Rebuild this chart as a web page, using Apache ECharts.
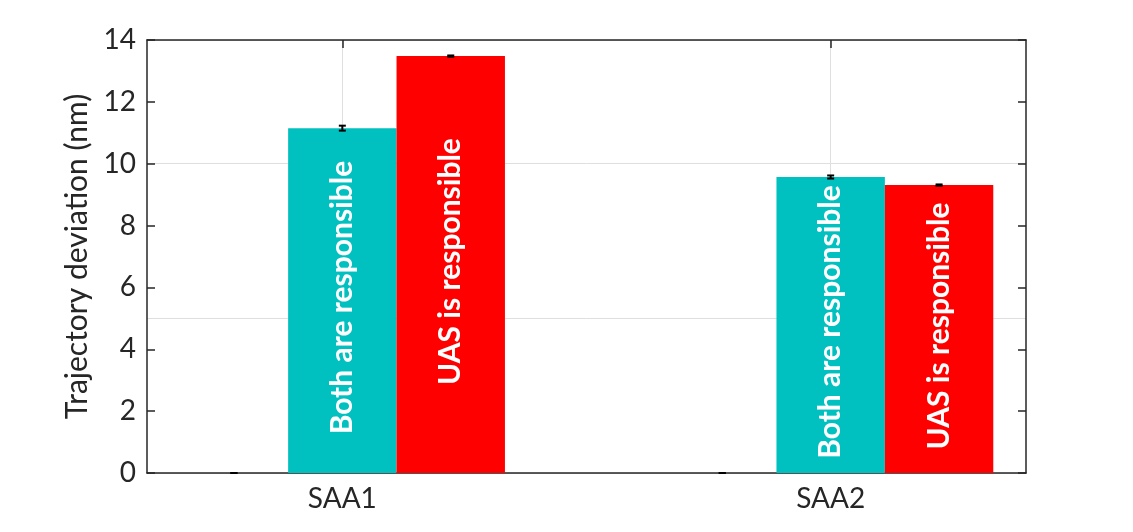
<!DOCTYPE html>
<html>
<head>
<meta charset="utf-8">
<script src="https://cdn.jsdelivr.net/npm/echarts@6/dist/echarts.min.js"></script>
<style>html,body{margin:0;padding:0;background:#fff}#c{width:1133px;height:532px}</style>
</head>
<body>
<div id="c"></div>
<script>
// ---- data ----
const categories = ['SAA1', 'SAA2'];
const seriesNames = ['(none)', 'Both are responsible', 'UAS is responsible'];
const noneValues = [0, 0];
const noneErrors = [0, 0];
const bothValues = [11.15, 9.57];
const bothErrors = [0.08, 0.05];
const uasValues = [13.48, 9.31];
const uasErrors = [0.02, 0.02];
const yTickValues = [0, 2, 4, 6, 8, 10, 12, 14];

const ink = '#262626';
const font = 'Lato, "Open Sans", sans-serif';
const barColors = ['#00C0C0', '#00C0C0', '#FF0000'];
const barOffsets = [-0.222, 0, 0.222];
const barW = 0.222;
const showLabel = [false, true, true];

function makeData(vals, errs) {
  return vals.map((v, i) => [i + 1, v, errs[i]]);
}
const allSeries = [
  makeData(noneValues, noneErrors),
  makeData(bothValues, bothErrors),
  makeData(uasValues, uasErrors)
];

function renderItem(params, api) {
  const si = params.seriesIndex;
  const x = api.value(0) + barOffsets[si];
  const v = api.value(1);
  const e = api.value(2);
  const tl = api.coord([x - barW / 2, v]);
  const br = api.coord([x + barW / 2, 0]);
  const children = [];
  if (v > 0) {
    children.push({
      type: 'rect',
      shape: { x: tl[0], y: tl[1], width: br[0] - tl[0], height: br[1] - tl[1] },
      style: { fill: barColors[si] }
    });
  }
  if (showLabel[si]) {
    const c = api.coord([x, v / 2]);
    children.push({
      type: 'text',
      x: c[0], y: c[1] - 3,
      rotation: Math.PI / 2,
      style: {
        text: seriesNames[si],
        fill: '#ffffff',
        font: 'bold 30px ' + font,
        align: 'center',
        verticalAlign: 'middle'
      },
      z2: 10
    });
  }
  const top = api.coord([x, v + e]);
  const bot = api.coord([x, v - e]);
  const cx = top[0];
  const cap = 3.5;
  const ls = { stroke: '#000', lineWidth: 2 };
  children.push({ type: 'line', shape: { x1: cx, y1: top[1], x2: cx, y2: bot[1] }, style: ls, z2: 20 });
  children.push({ type: 'line', shape: { x1: cx - cap, y1: top[1], x2: cx + cap, y2: top[1] }, style: ls, z2: 20 });
  children.push({ type: 'line', shape: { x1: cx - cap, y1: bot[1], x2: cx + cap, y2: bot[1] }, style: ls, z2: 20 });
  return { type: 'group', children: children };
}

const chart = echarts.init(document.getElementById('c'), null, { renderer: 'canvas' });
const gridColor = '#dfdfdf';
chart.setOption({
  animation: false,
  backgroundColor: '#ffffff',
  grid: { left: 147, top: 40, right: 107, bottom: 59, containLabel: false },
  xAxis: [
    {
      type: 'value', min: 0.6, max: 2.4, position: 'bottom',
      axisLine: { show: true, onZero: false, lineStyle: { color: ink, width: 1.5 } },
      axisTick: { show: true, inside: true, length: 8, customValues: [1, 2], lineStyle: { color: ink, width: 1.5 } },
      axisLabel: {
        show: true, customValues: [1, 2], color: ink, fontSize: 28, fontFamily: font, margin: 12,
        formatter: function (val) { return categories[Math.round(val) - 1] || ''; }
      },
      splitLine: { show: true, lineStyle: { color: gridColor, width: 1 } }
    },
    {
      type: 'value', min: 0.6, max: 2.4, position: 'top',
      axisLine: { show: true, onZero: false, lineStyle: { color: ink, width: 1.5 } },
      axisTick: { show: true, inside: true, length: 8, customValues: [1, 2], lineStyle: { color: ink, width: 1.5 } },
      axisLabel: { show: false },
      splitLine: { show: false }
    }
  ],
  yAxis: [
    {
      type: 'value', min: 0, max: 14, interval: 2, position: 'left',
      axisLine: { show: true, onZero: false, lineStyle: { color: ink, width: 1.5 } },
      axisTick: { show: true, inside: true, length: 8, lineStyle: { color: ink, width: 1.5 } },
      axisLabel: { show: true, color: ink, fontSize: 28, fontFamily: font, margin: 11,
        formatter: function (v) { return yTickValues.indexOf(v) >= 0 ? String(v) : ''; } },
      splitLine: { show: false },
      name: 'Trajectory deviation (nm)',
      nameLocation: 'middle',
      nameGap: 53,
      nameTextStyle: { color: ink, fontSize: 30, fontFamily: font }
    },
    {
      type: 'value', min: 0, max: 14, interval: 2, position: 'right',
      axisLine: { show: true, onZero: false, lineStyle: { color: ink, width: 1.5 } },
      axisTick: { show: true, inside: true, length: 8, lineStyle: { color: ink, width: 1.5 } },
      axisLabel: { show: false },
      splitLine: { show: false }
    },
    {
      type: 'value', min: 0, max: 14, interval: 5, position: 'left',
      axisLine: { show: false }, axisTick: { show: false }, axisLabel: { show: false },
      splitLine: { show: true, lineStyle: { color: gridColor, width: 1 } }
    }
  ],
  series: allSeries.map((d, i) => ({
    type: 'custom',
    name: seriesNames[i],
    xAxisIndex: 0,
    yAxisIndex: 0,
    renderItem: renderItem,
    encode: { x: 0, y: 1 },
    data: d,
    z: 5
  }))
});
</script>
</body>
</html>
